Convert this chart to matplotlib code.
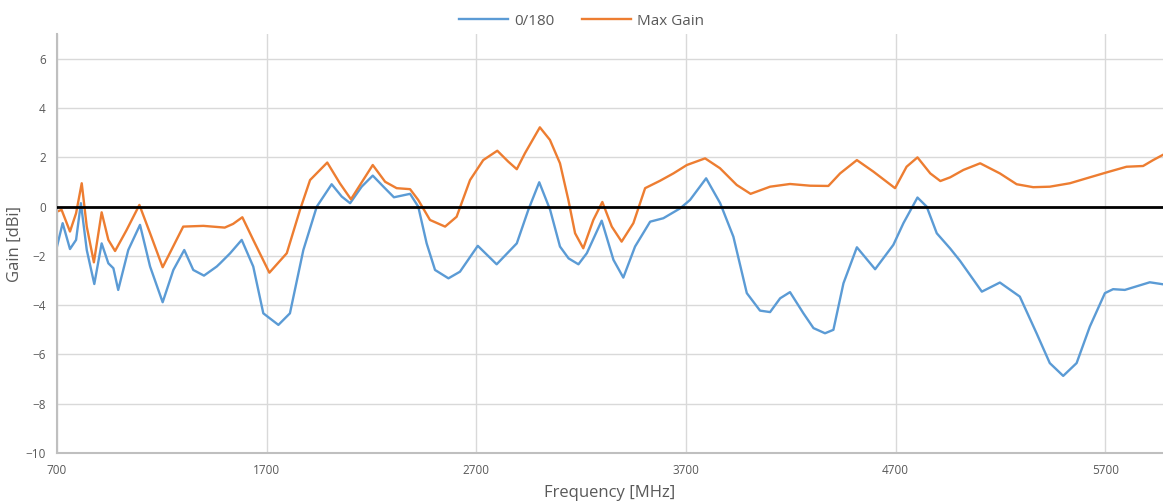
import matplotlib
matplotlib.use("Agg")
import matplotlib.pyplot as plt

plt.rcParams['font.family'] = ['Open Sans', 'DejaVu Sans']

# blue series: 0/180
freq_a = [700, 727, 762, 791, 814, 842, 878, 913, 945, 969, 992, 1040, 1096, 1144,
          1204, 1255, 1307, 1350, 1401, 1462, 1478, 1525, 1581, 1636, 1684, 1756,
          1811, 1875, 1939, 2010, 2058, 2098, 2153, 2206, 2257, 2307, 2384, 2423,
          2463, 2503, 2567, 2622, 2707, 2797, 2893, 2948, 3000, 3052, 3099, 3140,
          3187, 3227, 3298, 3354, 3401, 3457, 3529, 3592, 3672, 3719, 3796, 3863,
          3926, 3990, 4053, 4101, 4149, 4196, 4260, 4308, 4363, 4403, 4451, 4515,
          4602, 4689, 4737, 4804, 4848, 4896, 4960, 5007, 5111, 5197, 5292, 5372,
          5435, 5499, 5563, 5626, 5698, 5737, 5793, 5912, 5974]
gain_a = [-1.62, -0.67, -1.72, -1.35, 0.14, -1.76, -3.14, -1.49, -2.30, -2.50, -3.38,
          -1.76, -0.74, -2.43, -3.88, -2.57, -1.76, -2.57, -2.80, -2.43, -2.30, -1.90,
          -1.35, -2.43, -4.33, -4.80, -4.33, -1.76, 0.00, 0.91, 0.41, 0.14, 0.81,
          1.26, 0.81, 0.38, 0.52, 0.00, -1.49, -2.57, -2.91, -2.64, -1.59, -2.34,
          -1.49, -0.13, 0.99, -0.13, -1.62, -2.10, -2.34, -1.89, -0.57, -2.16, -2.88,
          -1.62, -0.61, -0.47, -0.07, 0.27, 1.15, 0.14, -1.22, -3.51, -4.22, -4.28,
          -3.72, -3.47, -4.33, -4.93, -5.14, -5.00, -3.11, -1.65, -2.54, -1.55, -0.67,
          0.37, 0.00, -1.08, -1.70, -2.20, -3.45, -3.08, -3.65, -5.14, -6.35, -6.87,
          -6.35, -4.87, -3.51, -3.35, -3.38, -3.07, -3.15]

# orange series: Max Gain
freq_b = [700, 722, 762, 791, 818, 842, 876, 913, 945, 977, 1032, 1093, 1144, 1204,
          1302, 1398, 1500, 1540, 1584, 1636, 1713, 1796, 1859, 1907, 1989, 2049,
          2102, 2206, 2265, 2320, 2384, 2423, 2479, 2551, 2606, 2670, 2733, 2800,
          2852, 2893, 2932, 3003, 3051, 3099, 3139, 3171, 3210, 3258, 3301, 3346,
          3393, 3449, 3505, 3576, 3640, 3704, 3791, 3862, 3942, 4008, 4101, 4196,
          4292, 4379, 4435, 4515, 4594, 4697, 4752, 4804, 4865, 4913, 4960, 5023,
          5103, 5197, 5277, 5356, 5435, 5531, 5626, 5706, 5801, 5880, 5928, 5974]
gain_b = [-0.20, -0.13, -1.01, -0.27, 0.95, -0.81, -2.26, -0.23, -1.35, -1.80, -0.95,
          0.07, -1.08, -2.46, -0.81, -0.78, -0.85, -0.70, -0.43, -1.35, -2.68, -1.89,
          -0.13, 1.08, 1.79, 0.95, 0.30, 1.69, 1.01, 0.75, 0.71, 0.27, -0.54, -0.81,
          -0.41, 1.08, 1.89, 2.27, 1.83, 1.52, 2.17, 3.22, 2.71, 1.76, 0.27, -1.08,
          -1.69, -0.54, 0.19, -0.81, -1.42, -0.67, 0.75, 1.05, 1.35, 1.69, 1.96, 1.56,
          0.88, 0.52, 0.81, 0.92, 0.85, 0.84, 1.35, 1.89, 1.42, 0.75, 1.62, 2.00, 1.35,
          1.04, 1.19, 1.49, 1.76, 1.35, 0.91, 0.79, 0.81, 0.95, 1.19, 1.39, 1.62, 1.65,
          1.89, 2.10]

x_ticks = [700, 1700, 2700, 3700, 4700, 5700]
y_ticks = [-10, -8, -6, -4, -2, 0, 2, 4, 6]

fig = plt.figure(figsize=(11.63, 5.03), dpi=100)
ax = fig.add_axes([0.049, 0.0994, 0.951, 0.8326])

ax.plot(freq_a, gain_a, color='#5B9BD5', lw=1.7, label='0/180', solid_joinstyle='round')
ax.plot(freq_b, gain_b, color='#ED7D31', lw=1.7, label='Max Gain', solid_joinstyle='round')
ax.axhline(0, color='black', lw=2.0, zorder=3)

ax.set_xlim(700, 5975)
ax.set_ylim(-10, 7)
ax.set_xticks(x_ticks)
ax.set_yticks(y_ticks)
ax.grid(True, color='#d9d9d9', lw=1)
ax.set_axisbelow(True)
ax.tick_params(length=0, labelsize=8.5, labelcolor='#595959', pad=8)
for s in ['top', 'right']:
    ax.spines[s].set_visible(False)
for s in ['left', 'bottom']:
    ax.spines[s].set_color('#bfbfbf')
    ax.spines[s].set_linewidth(1.5)

ax.set_xlabel('Frequency [MHz]', fontsize=12, color='#595959', labelpad=6)
ax.set_ylabel('Gain [dBi]', fontsize=12, color='#595959', labelpad=2)

fig.legend(loc='upper center', bbox_to_anchor=(0.5, 1.0), ncol=2, frameon=False,
           fontsize=11, handlelength=3.2, handletextpad=0.4, columnspacing=1.8,
           labelcolor='#595959')

fig.savefig('out.png', dpi=100)
